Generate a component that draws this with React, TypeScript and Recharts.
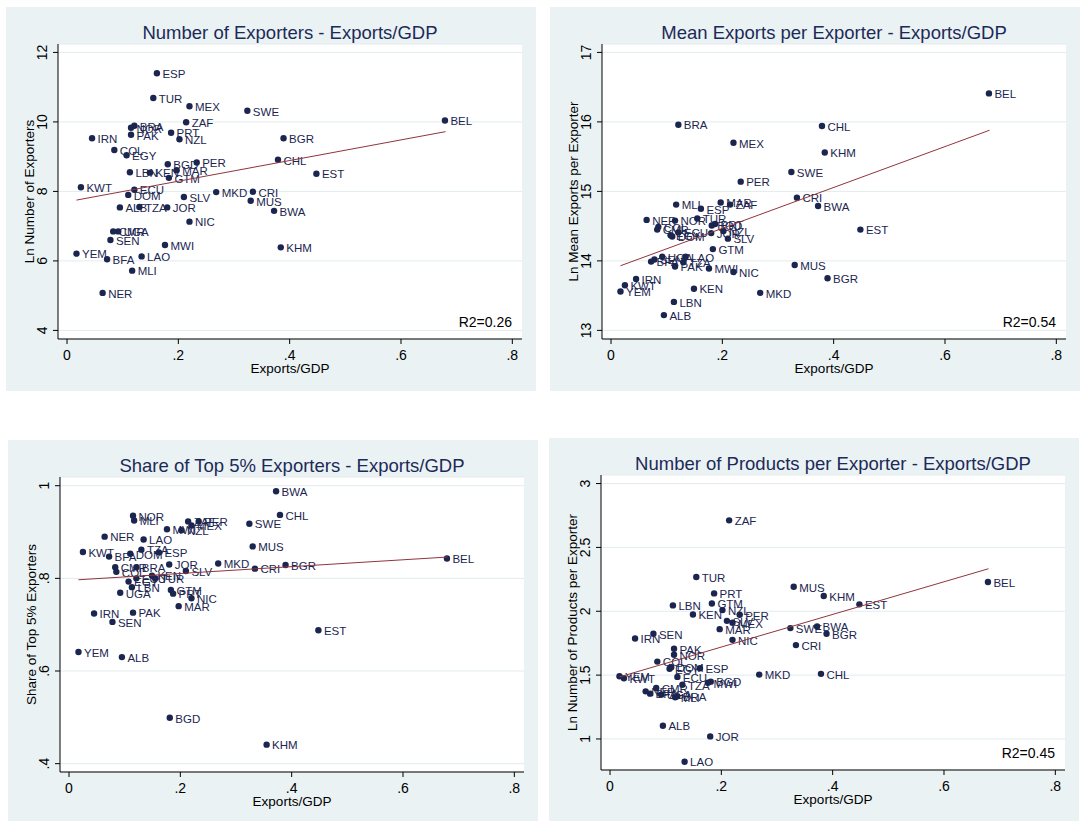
import React from 'react';
import { ScatterChart, Scatter, XAxis, YAxis, CartesianGrid } from 'recharts';

// countries, the panels share Exports/GDP on x (KHM sits further left in the top-5% panel)
const codes = ['ALB', 'BEL', 'BFA', 'BGD', 'BGR', 'BRA', 'BWA', 'CHL', 'CMR', 'COL', 'CRI', 'DOM', 'ECU', 'EGY', 'ESP',
  'EST', 'GTM', 'IRN', 'JOR', 'KEN', 'KHM', 'KWT', 'LAO', 'LBN', 'MAR', 'MEX', 'MKD', 'MLI', 'MUS', 'MWI', 'NER', 'NIC',
  'NOR', 'NZL', 'PAK', 'PER', 'PRT', 'SEN', 'SLV', 'SWE', 'TUR', 'TZA', 'UGA', 'YEM', 'ZAF'];
const exportsGdp = [0.095, 0.679, 0.072, 0.181, 0.389, 0.121, 0.372, 0.379, 0.083, 0.085, 0.334, 0.110, 0.121, 0.107, 0.1615,
  0.448, 0.183, 0.045, 0.180, 0.149, 0.384, 0.025, 0.134, 0.113, 0.197, 0.220, 0.268, 0.117, 0.330, 0.176, 0.064, 0.220,
  0.115, 0.202, 0.115, 0.233, 0.187, 0.078, 0.210, 0.324, 0.155, 0.130, 0.092, 0.017, 0.214];
const exportsGdpTop5 = [0.095, 0.679, 0.072, 0.181, 0.389, 0.121, 0.372, 0.379, 0.083, 0.085, 0.334, 0.110, 0.121, 0.107, 0.1615,
  0.448, 0.183, 0.045, 0.180, 0.149, 0.355, 0.025, 0.134, 0.113, 0.197, 0.220, 0.268, 0.117, 0.330, 0.176, 0.064, 0.220,
  0.115, 0.202, 0.115, 0.233, 0.187, 0.078, 0.210, 0.324, 0.155, 0.130, 0.092, 0.017, 0.214];
const lnExporters = [7.54, 10.04, 6.05, 8.78, 9.53, 9.89, 7.44, 8.91, 6.85, 9.19, 7.99, 7.90, 8.05, 9.04, 11.40,
  8.51, 8.39, 9.53, 7.54, 8.54, 6.39, 8.12, 6.13, 8.55, 8.61, 10.45, 7.98, 5.72, 7.73, 6.46, 5.08, 7.13,
  9.83, 9.50, 9.63, 8.83, 9.69, 6.60, 7.84, 10.32, 10.69, 7.55, 6.85, 6.21, 9.99];
const lnMeanExports = [13.22, 16.41, 13.99, 14.51, 13.75, 15.96, 14.79, 15.94, 14.45, 14.49, 14.91, 14.35, 14.41, 14.37, 14.75,
  14.45, 14.17, 13.74, 14.40, 13.60, 15.56, 13.65, 14.06, 13.41, 14.84, 15.70, 13.54, 14.81, 13.94, 13.89, 14.59, 13.84,
  14.58, 14.43, 13.92, 15.14, 14.53, 14.02, 14.32, 15.28, 14.61, 13.98, 14.06, 13.56, 14.81];
const top5Share = [0.630, 0.843, 0.847, 0.499, 0.829, 0.824, 0.988, 0.937, 0.824, 0.814, 0.821, 0.853, 0.800, 0.793, 0.856,
  0.688, 0.775, 0.724, 0.830, 0.806, 0.441, 0.857, 0.884, 0.781, 0.740, 0.914, 0.832, 0.925, 0.869, 0.906, 0.890, 0.757,
  0.935, 0.904, 0.726, 0.923, 0.767, 0.706, 0.816, 0.918, 0.800, 0.862, 0.769, 0.641, 0.923];
const lnProducts = [1.104, 2.229, 1.355, 1.449, 1.824, 1.335, 1.881, 1.510, 1.400, 1.606, 1.735, 1.562, 1.486, 1.550, 1.554,
  2.054, 2.061, 1.787, 1.020, 1.975, 2.119, 1.475, 0.822, 2.046, 1.860, 1.910, 1.504, 1.326, 2.192, 1.440, 1.373, 1.776,
  1.659, 2.009, 1.706, 1.973, 2.140, 1.824, 1.925, 1.868, 2.268, 1.424, 1.347, 1.491, 2.712];

// fitted lines, read at both ends
const fitX = [0.017, 0.68];
const fitExporters = [7.75, 9.72];
const fitMeanExports = [13.93, 15.88];
const fitTop5 = [0.797, 0.846];
const fitProducts = [1.486, 2.333];

const xTicks = [0, 0.2, 0.4, 0.6, 0.8];
const ticksExporters = [4, 6, 8, 10, 12];
const ticksMeanExports = [13, 14, 15, 16, 17];
const ticksTop5 = [0.4, 0.6, 0.8, 1];
const ticksProducts = [1, 1.5, 2, 2.5, 3];

const NAVY = '#1b2650';
const TITLE = '#1c2a58';
const LINE = '#90353b';
const BG = '#eaf2f3';
const FONT = '"Liberation Sans", Arial, Helvetica, sans-serif';

const W = 530;
const H = 384;

const fmt = (v: number) => {
  const s = String(Math.round(v * 100) / 100);
  return s.startsWith('0.') ? s.slice(1) : s;
};

const XTick = (p: any) => (
  <text x={p.x} y={353} textAnchor="middle" fontSize={14} fontFamily={FONT} fill="#000">
    {fmt(p.payload.value)}
  </text>
);

const YTick = (p: any) => (
  <text x={41.5} y={p.y} transform={`rotate(-90 41.5 ${p.y})`} textAnchor="middle" fontSize={14} fontFamily={FONT} fill="#000">
    {fmt(p.payload.value)}
  </text>
);

const Dot = (p: any) => (
  <g>
    <circle cx={p.cx} cy={p.cy} r={3.2} fill={NAVY} />
    <text x={p.cx + 5.5} y={p.cy + 4.8} fontSize={11.5} fontFamily={FONT} fill={NAVY}>
      {p.payload.code}
    </text>
  </g>
);

interface PanelProps {
  left: number;
  top: number;
  title: string;
  yTitle: string;
  r2?: string;
  xs: number[];
  values: number[];
  fit: number[];
  domain: [number, number];
  ticks: number[];
}

const Panel: React.FC<PanelProps> = ({ left, top, title, yTitle, r2, xs, values, fit, domain, ticks }) => {
  const points = codes.map((code, i) => ({ code, x: xs[i], y: values[i] }));
  const line = fitX.map((x, i) => ({ x, y: fit[i] }));
  return (
    <div style={{ position: 'absolute', left, top, width: W, height: H, background: BG }}>
      <ScatterChart width={W} height={H} margin={{ top: 37, right: 14, bottom: 0, left: 0 }}>
        <CartesianGrid vertical={false} stroke="#e2ebed" fill="#fff" fillOpacity={1} />
        <XAxis
          type="number"
          dataKey="x"
          domain={[-0.0162, 0.8174]}
          ticks={xTicks}
          height={52}
          tickSize={5}
          axisLine={{ stroke: '#000' }}
          tickLine={{ stroke: '#000' }}
          tick={XTick}
          interval={0}
        />
        <YAxis
          type="number"
          dataKey="y"
          domain={domain}
          ticks={ticks}
          width={52}
          tickSize={5}
          axisLine={{ stroke: '#000' }}
          tickLine={{ stroke: '#000' }}
          tick={YTick}
          interval={0}
        />
        <Scatter data={points} shape={Dot} isAnimationActive={false} />
        <Scatter
          data={line}
          line={{ stroke: LINE, strokeWidth: 1 }}
          shape={() => <g />}
          isAnimationActive={false}
        />
      </ScatterChart>
      <svg width={W} height={H} style={{ position: 'absolute', left: 0, top: 0, pointerEvents: 'none' }}>
        <text x={284} y={32} textAnchor="middle" fontSize={18.5} fontFamily={FONT} fill={TITLE}>
          {title}
        </text>
        <text x={27.5} y={184.5} transform="rotate(-90 27.5 184.5)" textAnchor="middle" fontSize={13.5} fontFamily={FONT} fill="#000">
          {yTitle}
        </text>
        <text x={284} y={366} textAnchor="middle" fontSize={13.5} fontFamily={FONT} fill="#000">
          Exports/GDP
        </text>
        {r2 && (
          <text x={506} y={320} textAnchor="end" fontSize={14} fontFamily={FONT} fill="#000">
            {r2}
          </text>
        )}
      </svg>
    </div>
  );
};

export default function App() {
  return (
    <div style={{ position: 'absolute', left: 0, top: 0, width: 1080, height: 821, overflow: 'hidden', background: '#fff' }}>
      <Panel
        left={6}
        top={7}
        title="Number of Exporters - Exports/GDP"
        yTitle="Ln Number of Exporters"
        r2="R2=0.26"
        xs={exportsGdp}
        values={lnExporters}
        fit={fitExporters}
        domain={[3.753, 12.242]}
        ticks={ticksExporters}
      />
      <Panel
        left={550}
        top={7}
        title="Mean Exports per Exporter - Exports/GDP"
        yTitle="Ln Mean Exports per Exporter"
        r2="R2=0.54"
        xs={exportsGdp}
        values={lnMeanExports}
        fit={fitMeanExports}
        domain={[12.876, 17.121]}
        ticks={ticksMeanExports}
      />
      <Panel
        left={8}
        top={440}
        title="Share of Top 5% Exporters - Exports/GDP"
        yTitle="Share of Top 5% Exporters"
        xs={exportsGdpTop5}
        values={top5Share}
        fit={fitTop5}
        domain={[0.382, 1.0188]}
        ticks={ticksTop5}
      />
      <Panel
        left={549}
        top={438}
        title="Number of Products per Exporter - Exports/GDP"
        yTitle="Ln Number of Products per Exporter"
        r2="R2=0.45"
        xs={exportsGdp}
        values={lnProducts}
        fit={fitProducts}
        domain={[0.757, 3.067]}
        ticks={ticksProducts}
      />
    </div>
  );
}
